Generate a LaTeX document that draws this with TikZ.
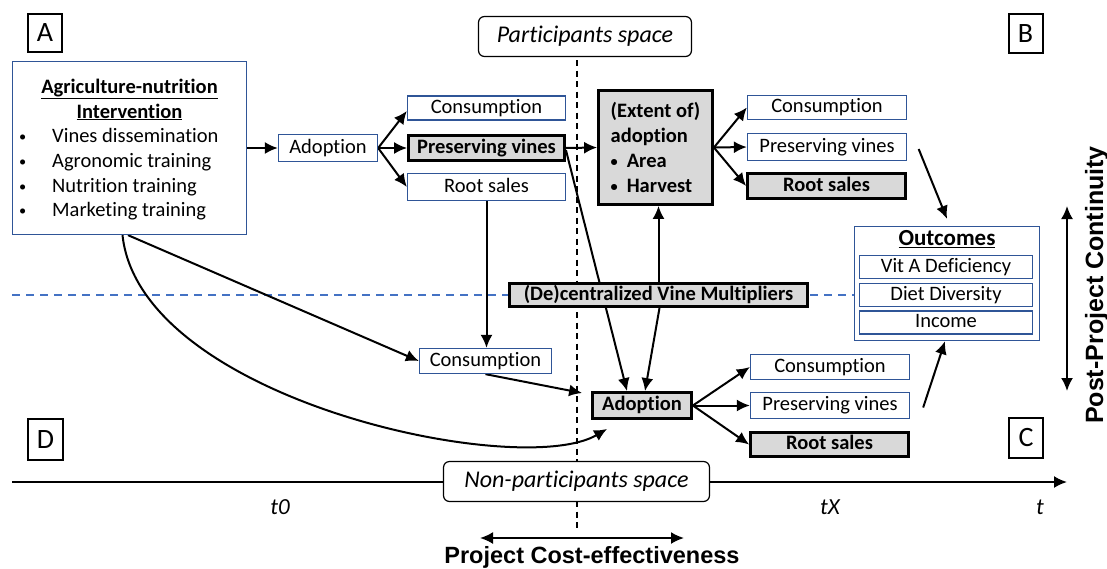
\documentclass[tikz,border=0pt]{standalone}
\usepackage{fontspec}
\setmainfont{Carlito}[Ligatures=NoCommon]
\newfontfamily\arialf{Liberation Sans}
\usetikzlibrary{arrows.meta,calc}
\definecolor{bboxc}{RGB}{47,85,151}
\definecolor{dashc}{RGB}{68,114,196}
\definecolor{grayf}{RGB}{217,217,217}
\newcommand\fsz[2]{\fontsize{#1pt}{#2pt}\selectfont}
\newcommand\sbul{\raisebox{1.2pt}{\scalebox{0.7}{•}}}
\pgfdeclarelayer{bg}
\pgfsetlayers{bg,main}
\begin{document}
\begin{tikzpicture}[x=1pt,y=-1pt,
 bluebox/.style={draw=bboxc, line width=1.3pt, fill=white, inner sep=0pt, font=\fsz{20.5}{25}, text height=13pt, text depth=3pt},
 graybox/.style={draw=black, line width=2.8pt, fill=grayf, inner sep=0pt, font=\bfseries\fsz{20.5}{25}, text height=13pt, text depth=3pt},
 lbox/.style={draw=black, line width=2pt, fill=white, inner sep=0pt, font=\fsz{28}{30}},
 spacebox/.style={draw=black, line width=1.2pt, rounded corners=6pt, fill=white, inner sep=0pt, font=\itshape\fsz{24}{28}},
 txt/.style={inner sep=0pt},
 arr/.style={line width=2pt, -{Latex[length=13pt,width=12pt]}},
 dbl/.style={line width=2pt, {Latex[length=13pt,width=12pt]}-{Latex[length=13pt,width=12pt]}},
 vdash/.style={line width=1.5pt, dash pattern=on 6pt off 4.5pt},
 bdash/.style={draw=dashc, line width=1.5pt, dash pattern=on 8pt off 6pt},
]
\useasboundingbox (0,0) rectangle (1107,568);

% corner letters
\node[lbox, minimum width=34, minimum height=38] (A) at (45,33) {A};
\node[lbox, minimum width=34, minimum height=39] (B) at (1025.5,33.5) {B};
\node[lbox, minimum width=34, minimum height=40] (C) at (1026,438) {C};
\node[lbox, minimum width=35, minimum height=41] (D) at (45.5,439.5) {D};

% spaces
\node[spacebox, minimum width=213, minimum height=40] (psp) at (585,36.5) {Participants space};
\node[spacebox, minimum width=266, minimum height=40] (npsp) at (576.5,481.5) {Non-participants space};

% intervention
\node[draw=bboxc, line width=1.3pt, fill=white, minimum width=234, minimum height=173, inner sep=0pt] (interv) at (129.5,148) {};
\node[txt, align=center, font=\bfseries\fsz{20.5}{25}] (ititle) at (129.5,99.5) {\underline{Agriculture-nutrition}\\\underline{Intervention}};
\node[txt, anchor=base west, font=\fsz{20.5}{25}] (b1) at (19,142.7) {\makebox[33pt][l]{\sbul}Vines dissemination};
\node[txt, anchor=base west, font=\fsz{20.5}{25}] (b2) at (19,167.7) {\makebox[33pt][l]{\sbul}Agronomic training};
\node[txt, anchor=base west, font=\fsz{20.5}{25}] (b3) at (19,192.2) {\makebox[33pt][l]{\sbul}Nutrition training};
\node[txt, anchor=base west, font=\fsz{20.5}{25}] (b4) at (19,216.7) {\makebox[33pt][l]{\sbul}Marketing training};

% top row
\node[bluebox, minimum width=99, minimum height=27] (adoptT) at (328,148) {Adoption};
\node[bluebox, minimum width=158, minimum height=24] (consT) at (486.5,108) {Consumption};
\node[graybox, minimum width=156, minimum height=25] (presT) at (486.5,148) {Preserving vines};
\node[bluebox, minimum width=158, minimum height=27] (rootT) at (486.5,187) {Root sales};

\node[draw=black, line width=2.8pt, fill=grayf, minimum width=114, minimum height=114, inner sep=0pt, align=left, font=\bfseries\fsz{20.5}{25}] (extent) at (655.5,147.5) {(Extent of)\\adoption\\\sbul\hspace{9pt}Area\\\sbul\hspace{9pt}Harvest};

\node[bluebox, minimum width=159, minimum height=24] (consR) at (827,107.5) {Consumption};
\node[bluebox, minimum width=159, minimum height=27] (presR) at (827,147) {Preserving vines};
\node[graybox, minimum width=158, minimum height=25] (rootR) at (826.5,186) {Root sales};

% multipliers
\node[graybox, minimum width=298, minimum height=23] (mult) at (658.5,295) {(De)centralized Vine Multipliers};

% outcomes
\node[draw=bboxc, line width=1.3pt, fill=white, minimum width=185, minimum height=114, inner sep=0pt] (outc) at (947,283.5) {};
\node[txt, font=\bfseries\fsz{23}{26}] (otitle) at (947,239) {\underline{Outcomes}};
\node[bluebox, minimum width=173, minimum height=23] (vit) at (946,267) {Vit A Deficiency};
\node[bluebox, minimum width=173, minimum height=23] (diet) at (946,295) {Diet Diversity};
\node[bluebox, minimum width=173, minimum height=23] (inc) at (946,322.5) {Income};

% bottom row
\node[bluebox, minimum width=132, minimum height=25] (consM) at (485.5,361) {Consumption};
\node[graybox, minimum width=99, minimum height=26] (adoptB) at (642,405.5) {Adoption};
\node[bluebox, minimum width=159, minimum height=25] (consB) at (830,367) {Consumption};
\node[bluebox, minimum width=159, minimum height=26] (presB) at (830,405.5) {Preserving vines};
\node[graybox, minimum width=158, minimum height=24] (rootB) at (829.5,444.5) {Root sales};

% axis labels
\node[txt, anchor=base, font=\itshape\fsz{23}{26}] (t0) at (280,514) {t0};
\node[txt, anchor=base, font=\itshape\fsz{23}{26}] (tX) at (830,514) {tX};
\node[txt, anchor=base, font=\itshape\fsz{23}{26}] (tt) at (1040,514) {t};
\node[txt, anchor=base, font=\arialf\bfseries\fsz{23.5}{28}] (pce) at (592,563) {Project Cost-effectiveness};
\node[txt, anchor=base, rotate=90, font=\arialf\bfseries\fsz{25}{28}] (ppc) at (1103,285) {Post-Project Continuity};

% free ends
\coordinate (vt) at (577,60);
\coordinate (vb) at (577,528);
\coordinate (bl) at (12,295);
\coordinate (br) at (1040,295);
\coordinate (ax0) at (12,482);
\coordinate (ax1) at (1067,482);
\coordinate (pc1) at (1067,206);
\coordinate (pc2) at (1067,391);
\coordinate (ce1) at (480,538);
\coordinate (ce2) at (684,538);

\begin{pgfonlayer}{bg}
\draw[vdash] (vt) -- (vb);
\draw[bdash] (bl) -- (br);
\draw[arr] (ax0) -- (ax1);
\draw[dbl] (pc1) -- (pc2);
\draw[dbl] (ce1) -- (ce2);

\draw[arr] (interv.east) -- (adoptT.west);
\draw[arr] (adoptT.east) -- ([yshift=-3pt]consT.west);
\draw[arr] (adoptT.east) -- (presT.west);
\draw[arr] (adoptT.east) -- (rootT.west);
\draw[arr] (presT.east) -- (extent.west);
\draw[arr] ([yshift=-2pt]presT.east) -- ([xshift=-15pt]adoptB.north);
\draw[arr] (mult.north) -- (mult.north |- extent.south);
\draw[arr] ([xshift=1pt]mult.south) -- ([xshift=3pt]adoptB.north);
\draw[arr] (extent.east) -- (consR.west);
\draw[arr] (extent.east) -- (presR.west);
\draw[arr] (extent.east) -- (rootR.west);
\draw[arr] (rootT.south) -- (rootT.south |- consM.north);
\draw[arr] ([xshift=-1.5pt]interv.south) -- (consM.west);
\draw[arr] (consM.south) -- ($(adoptB.west)+(-9,-12.5)$);
\draw[arr] ([xshift=-7pt]interv.south) .. controls (140,400) and (520,480) .. ($(adoptB.south west)+(16,9)$);
\draw[arr] (adoptB.east) -- (consB.west);
\draw[arr] (adoptB.east) -- (presB.west);
\draw[arr] (adoptB.east) -- (rootB.west);
\draw[arr] ([xshift=11.5pt,yshift=-2pt]presR.east) -- ([yshift=7pt]outc.north);
\draw[arr] ([xshift=13pt,yshift=-2pt]presB.east) -- ([xshift=-2pt]outc.south);
\end{pgfonlayer}
\end{tikzpicture}
\end{document}
